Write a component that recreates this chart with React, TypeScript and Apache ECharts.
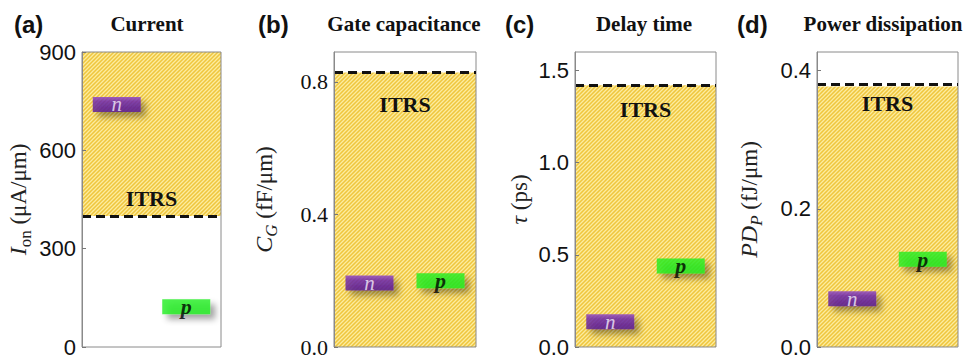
import React, { useEffect, useRef } from 'react';
import * as echarts from 'echarts';

const panelTags = ['(a)', '(b)', '(c)', '(d)'];
const panelTitles = ['Current', 'Gate capacitance', 'Delay time', 'Power dissipation'];
const deviceTypes = ['n', 'p'];
const nValues = [740, 0.193, 0.137, 0.07];
const pValues = [123, 0.2, 0.44, 0.127];
const itrsValues = [400, 0.828, 1.42, 0.377];
const axisMax = [900, 0.89, 1.6, 0.427];
const axisInterval = [300, 0.4, 0.5, 0.2];
const labelDecimals = [0, 1, 1, 1];
const axisNames = [
  '{it|I}{subr|on} (μA/μm)',
  '{it|C}{sub|G} (fF/μm)',
  '{it|τ} (ps)',
  '{it|PD}{sub|P} (fJ/μm)',
];
// true: ITRS value is a minimum requirement (region above is acceptable)
const itrsIsMinimum = [true, false, false, false];

function makeHatch(): any {
  const c = document.createElement('canvas');
  c.width = 4;
  c.height = 4;
  const ctx = c.getContext('2d')!;
  ctx.fillStyle = '#efc63e';
  ctx.fillRect(0, 0, 4, 4);
  ctx.strokeStyle = '#fcec9f';
  ctx.lineWidth = 1.3;
  ctx.beginPath();
  ctx.moveTo(-1, 5);
  ctx.lineTo(5, -1);
  ctx.moveTo(-1, 1);
  ctx.lineTo(1, -1);
  ctx.moveTo(3, 5);
  ctx.lineTo(5, 3);
  ctx.stroke();
  return { image: c.toDataURL(), repeat: 'repeat', imageWidth: 4, imageHeight: 4 };
}

export default function App() {
  const ref = useRef<HTMLDivElement>(null);

  useEffect(() => {
    document.body.style.margin = '0';
    const chart = echarts.init(ref.current!, undefined, { renderer: 'svg' });
    const hatch = makeHatch();

    const gridLeft = [82, 334, 575, 817];
    const gridWidth = [139, 142, 141, 141];
    const nameGaps = [48, 54, 43, 52];
    const itrsPos = ['insideMiddleTop', 'insideMiddleBottom', 'insideMiddleBottom', 'insideMiddleBottom'];
    const itrsDist = [6, 22, 13, 8];
    const tagX = [14, 258, 505, 737];
    const titleX = [147, 404, 644, 883];
    const tickFont = ['Liberation Sans', 'Liberation Serif', 'Liberation Sans', 'Liberation Sans'];

    const grids: any[] = [];
    const xAxes: any[] = [];
    const yAxes: any[] = [];
    const series: any[] = [];
    const graphics: any[] = [];

    const nameBase = { fontFamily: 'Liberation Serif', color: '#222' };

    for (let i = 0; i < 4; i++) {
      grids.push({
        left: gridLeft[i],
        top: 52,
        width: gridWidth[i],
        height: 297,
        show: true,
        borderColor: '#8a8a8a',
        borderWidth: 1,
        backgroundColor: 'transparent',
        z: 5,
      });
      xAxes.push({
        type: 'category',
        gridIndex: i,
        data: deviceTypes,
        boundaryGap: true,
        axisLine: { show: false },
        axisTick: { show: false },
        axisLabel: { show: false },
        splitLine: { show: false },
      });
      yAxes.push({
        type: 'value',
        gridIndex: i,
        min: 0,
        max: axisMax[i],
        interval: axisInterval[i],
        z: 6,
        name: axisNames[i],
        nameLocation: 'middle',
        nameGap: nameGaps[i],
        nameTextStyle: {
          ...nameBase,
          fontSize: 23,
          lineHeight: i === 2 ? 26 : 32,
          rich: {
            it: { ...nameBase, fontStyle: 'italic', fontSize: 24, lineHeight: 26 },
            sub: { ...nameBase, fontStyle: 'italic', fontSize: 17, lineHeight: 32, verticalAlign: 'bottom' },
            subr: { ...nameBase, fontSize: 17, lineHeight: 32, verticalAlign: 'bottom' },
          },
        },
        axisLine: { show: true, lineStyle: { color: '#8a8a8a', width: 1 } },
        axisTick: { show: true, inside: true, length: 4, lineStyle: { color: '#777' } },
        splitLine: { show: false },
        axisLabel: {
          show: true,
          showMaxLabel: i === 0,
          margin: 6,
          fontFamily: tickFont[i],
          fontSize: 22,
          color: '#111',
          formatter: (v: number) => v.toFixed(labelDecimals[i]),
        },
      });

      const areaRange = itrsIsMinimum[i]
        ? [{ yAxis: itrsValues[i] }, { yAxis: axisMax[i] }]
        : [{ yAxis: 0 }, { yAxis: itrsValues[i] }];

      const shadow = { shadowBlur: 6, shadowOffsetX: 5, shadowOffsetY: 5, shadowColor: 'rgba(0,0,0,0.45)' };

      series.push({
        type: 'scatter',
        xAxisIndex: i,
        yAxisIndex: i,
        symbol: 'rect',
        symbolSize: [48, 15],
        z: 3,
        data: [
          {
            value: [deviceTypes[0], nValues[i]],
            itemStyle: {
              color: {
                type: 'linear', x: 0, y: 0, x2: 0, y2: 1,
                colorStops: [
                  { offset: 0, color: '#8a40cc' },
                  { offset: 0.3, color: '#6a22b0' },
                  { offset: 1, color: '#581896' },
                ],
              },
              ...shadow,
            },
            label: {
              show: true,
              position: 'inside',
              formatter: deviceTypes[0],
              fontFamily: 'Liberation Serif',
              fontStyle: 'italic',
              fontSize: 21,
              color: '#f4eefa',
            },
          },
          {
            value: [deviceTypes[1], pValues[i]],
            itemStyle: { color: '#1eee1e', ...shadow },
            label: {
              show: true,
              position: 'inside',
              formatter: deviceTypes[1],
              fontFamily: 'Liberation Serif',
              fontStyle: 'italic',
              fontWeight: 'bold',
              fontSize: 22,
              color: '#000',
            },
          },
        ],
        markArea: {
          silent: true,
          itemStyle: { color: hatch, borderWidth: 0 },
          data: [areaRange],
        },
        markLine: {
          silent: true,
          symbol: 'none',
          lineStyle: { color: '#111', width: 3, type: [9, 5] },
          label: {
            show: true,
            formatter: 'ITRS',
            position: itrsPos[i],
            distance: itrsDist[i],
            fontFamily: 'Liberation Serif',
            fontWeight: 'bold',
            fontSize: 22,
            color: '#111',
          },
          data: [{ yAxis: itrsValues[i] }],
        },
      });

      graphics.push({
        type: 'text',
        x: tagX[i],
        y: 24,
        style: {
          text: panelTags[i],
          font: 'bold 24px "Liberation Sans"',
          fill: '#111',
          align: 'left',
          verticalAlign: 'middle',
        },
      });
      graphics.push({
        type: 'text',
        x: titleX[i],
        y: 24,
        style: {
          text: panelTitles[i],
          font: 'bold 21px "Liberation Serif"',
          fill: '#111',
          align: 'center',
          verticalAlign: 'middle',
        },
      });
    }

    chart.setOption({
      animation: false,
      backgroundColor: '#fff',
      grid: grids,
      xAxis: xAxes,
      yAxis: yAxes,
      series,
      graphic: graphics,
    });

    return () => chart.dispose();
  }, []);

  return <div ref={ref} style={{ width: 966, height: 358 }} />;
}
